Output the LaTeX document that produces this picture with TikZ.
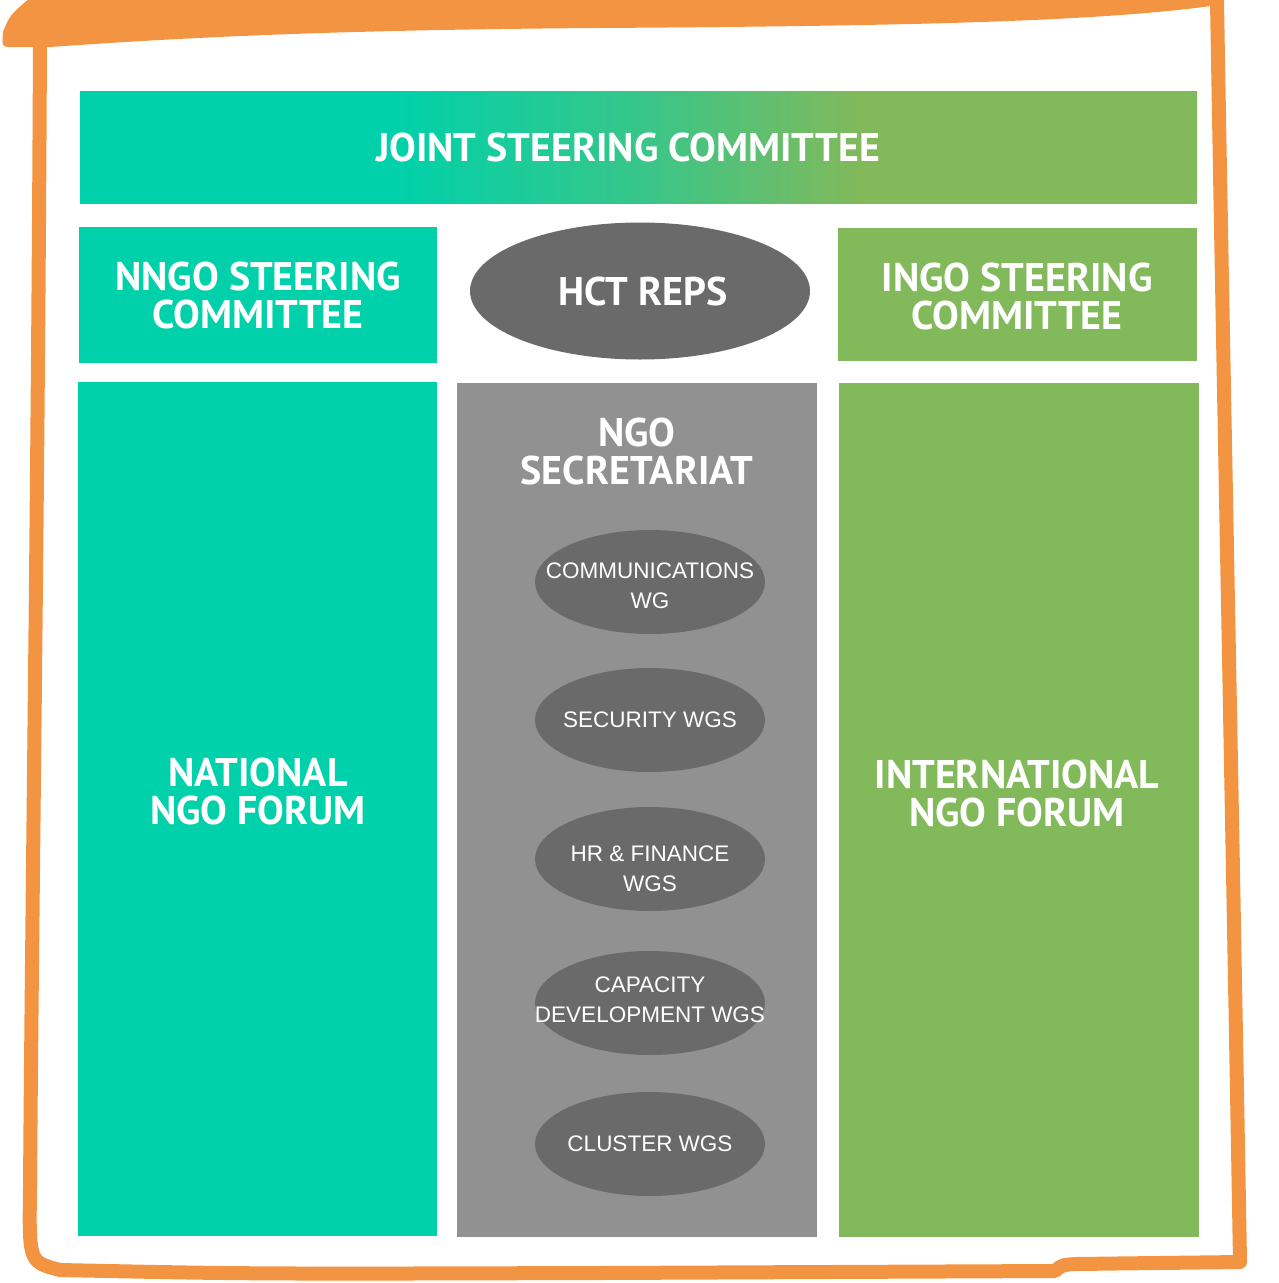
\documentclass[tikz,border=0pt]{standalone}
\usepackage{fontspec}
\usetikzlibrary{shapes.geometric}
\newfontfamily\headfont{PT Sans}
\newfontfamily\wgfont{Liberation Sans}
\definecolor{teal}{RGB}{0,209,170}
\definecolor{grn}{RGB}{130,185,90}
\definecolor{midg}{RGB}{55,198,138}
\definecolor{secgray}{RGB}{145,145,145}
\definecolor{dkgray}{RGB}{106,106,106}
\definecolor{orng}{RGB}{242,148,66}
\pgfdeclarehorizontalshading{jscshade}{100bp}{color(0bp)=(teal); color(39bp)=(teal); color(50bp)=(midg); color(60bp)=(grn); color(100bp)=(grn)}
\begin{document}
\begin{tikzpicture}[x=1pt,y=-1pt,
  box/.style={rectangle,inner sep=0pt,draw=none},
  head/.style={text=white,align=center,inner sep=0pt,font=\headfont\bfseries\fontsize{40}{38}\selectfont},
  wgshape/.style={ellipse,fill=dkgray,inner sep=0pt,minimum width=230pt,minimum height=104pt},
  wg/.style={text=white,align=center,inner sep=0pt,font=\wgfont\fontsize{22.5}{30}\selectfont},
  frame/.style={draw=orng,line width=14pt,line cap=round,line join=round}]
\useasboundingbox (0,0) rectangle (1279,1283);
% orange hand-drawn frame
\fill[orng] (3,32) .. controls (10,15) .. (30,-2) -- (1218,-2) -- (1218,5)
  .. controls (1100,22) and (900,26) .. (600,28) .. controls (300,30) and (150,40) .. (50,47)
  -- (8,47) .. controls (2,46) .. (3,32) -- cycle;
\draw[frame] (40,40) .. controls (38,500) and (32,900) .. (30,1190)
  .. controls (29,1262) .. (60,1270) .. controls (250,1274) .. (600,1273)
  -- (1055,1271) .. controls (1062,1265) .. (1075,1264) -- (1240,1262)
  .. controls (1232,800) and (1222,300) .. (1217,0);
% joint steering committee bar
\node[box,shading=jscshade,minimum width=1117pt,minimum height=112pt] (jscbox) at (638.5,147) {};
\node[head] (jsc) at (628,147) {JOINT STEERING COMMITTEE};
% steering committees
\node[box,fill=teal,minimum width=358pt,minimum height=136pt] (nngo) at (258,295) {};
\node[head] (nngot) at (258,295) {NNGO STEERING\\COMMITTEE};
\node[ellipse,fill=dkgray,inner sep=0pt,minimum width=340pt,minimum height=137pt] (hct) at (640,291) {};
\node[head] (hctt) at (643,291) {HCT REPS};
\node[box,fill=grn,minimum width=359pt,minimum height=133pt] (ingo) at (1017.5,294.5) {};
\node[head] (ingot) at (1017,296) {INGO STEERING\\COMMITTEE};
% forums
\node[box,fill=teal,minimum width=359pt,minimum height=854pt] (nat) at (257.5,809) {};
\node[head] (natt) at (258,791) {NATIONAL\\NGO FORUM};
\node[box,fill=secgray,minimum width=360pt,minimum height=854pt] (sec) at (637,810) {};
\node[head] (sect) at (637,451) {NGO\\SECRETARIAT};
\node[box,fill=grn,minimum width=360pt,minimum height=854pt] (intl) at (1019,810) {};
\node[head] (intlt) at (1017,793) {INTERNATIONAL\\NGO FORUM};
% working groups
\node[wgshape] (comm) at (650,582) {};
\node[wg] (commt) at (650,586) {COMMUNICATIONS\\WG};
\node[wgshape] (secu) at (650,720) {};
\node[wg] (secut) at (650,720) {SECURITY WGS};
\node[wgshape] (hr) at (650,859) {};
\node[wg] (hrt) at (650,869) {HR \& FINANCE\\WGS};
\node[wgshape] (cap) at (650,1003) {};
\node[wg] (capt) at (650,1000) {CAPACITY\\DEVELOPMENT WGS};
\node[wgshape] (clus) at (650,1144) {};
\node[wg] (clust) at (650,1144) {CLUSTER WGS};
\end{tikzpicture}
\end{document}
